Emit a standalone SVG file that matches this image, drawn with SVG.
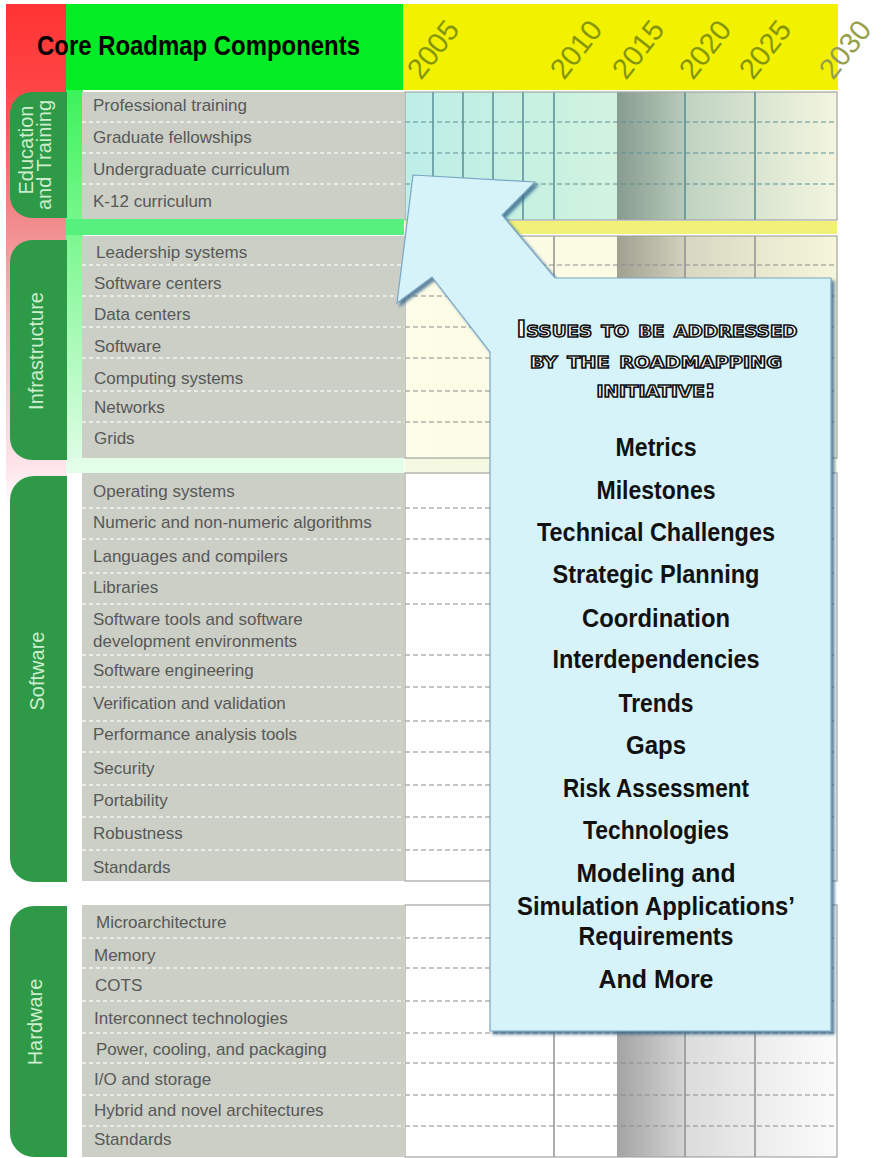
<svg xmlns="http://www.w3.org/2000/svg" width="882" height="1158" viewBox="0 0 882 1158">
<defs>
<style>
.lbl{font-family:"Liberation Sans",Arial,sans-serif;font-size:17px;fill:#585858}
.tab{fill:#2e9a48}
.tabt{font-family:"Liberation Sans",Arial,sans-serif;font-size:20px;fill:#cdeecd;text-anchor:middle}
.yr{font-family:"Liberation Sans",Arial,sans-serif;font-size:29px;fill:#86960c}
.box{fill:#cbcfc6}
.wsep{stroke:#f6f6f6;stroke-width:1.5;stroke-dasharray:4 3;fill:none}
.gsep{stroke:#8c8c8c;stroke-width:1.2;stroke-dasharray:5 3;fill:none}
.esep{stroke:#5f8f96;stroke-width:1.2;stroke-dasharray:5 3;fill:none}
.vl{stroke:#8a8a8a;stroke-width:1.4}
.evl{stroke:#4f8790;stroke-width:1.4}
.frame{fill:none;stroke:#a3a6a0;stroke-width:1.2}
.item{font-family:"Liberation Sans",Arial,sans-serif;font-weight:bold;font-size:25px;fill:#111;text-anchor:middle}
.hd{font-family:"DejaVu Sans",sans-serif;font-weight:bold;font-size:23px;font-variant:small-caps;fill:#fff;stroke:#111;stroke-width:1.5;text-anchor:middle}
</style>
<linearGradient id="redG" gradientUnits="userSpaceOnUse" x1="0" y1="0" x2="0" y2="1158">
<stop offset="0" stop-color="#ff3232"/>
<stop offset="0.075" stop-color="#ff4444"/>
<stop offset="0.19" stop-color="#f28a8c"/>
<stop offset="0.28" stop-color="#f8bcc2"/>
<stop offset="0.4" stop-color="#fde3e8"/>
<stop offset="0.44" stop-color="#ffffff"/>
</linearGradient>
<linearGradient id="greenG" gradientUnits="userSpaceOnUse" x1="0" y1="90" x2="0" y2="473">
<stop offset="0" stop-color="#3cf25a"/>
<stop offset="0.4" stop-color="#80f894"/>
<stop offset="1" stop-color="#e2fde8"/>
</linearGradient>
<linearGradient id="eduG" x1="0" y1="0" x2="1" y2="0">
<stop offset="0" stop-color="#bdeee8"/>
<stop offset="0.35" stop-color="#c9f1e0"/>
<stop offset="1" stop-color="#f7f9e2"/>
</linearGradient>
<linearGradient id="infG" x1="0" y1="0" x2="1" y2="0">
<stop offset="0" stop-color="#fdfde8"/>
<stop offset="1" stop-color="#f9f9de"/>
</linearGradient>
<linearGradient id="shA" x1="0" y1="0" x2="1" y2="0">
<stop offset="0" stop-color="#000" stop-opacity="0.36"/>
<stop offset="1" stop-color="#000" stop-opacity="0.17"/>
</linearGradient>
<linearGradient id="shB" x1="0" y1="0" x2="1" y2="0">
<stop offset="0" stop-color="#000" stop-opacity="0.14"/>
<stop offset="1" stop-color="#000" stop-opacity="0.08"/>
</linearGradient>
<linearGradient id="shC" x1="0" y1="0" x2="1" y2="0">
<stop offset="0" stop-color="#000" stop-opacity="0.075"/>
<stop offset="1" stop-color="#000" stop-opacity="0.015"/>
</linearGradient>
<filter id="drop" x="-10%" y="-10%" width="130%" height="130%">
<feDropShadow dx="3" dy="3" stdDeviation="1.8" flood-color="#2f5f85" flood-opacity="0.75"/>
</filter>
</defs>

<rect x="0" y="0" width="882" height="1158" fill="#ffffff"/>

<!-- left strips -->
<g id="strips">
<rect x="6" y="4" width="61" height="1154" fill="url(#redG)"/>
<rect x="66" y="90" width="17" height="383" fill="url(#greenG)"/>
<rect x="66" y="219" width="338" height="16" fill="#58f07c"/>
<rect x="66" y="458" width="338" height="15" fill="#e2fde8"/>
</g>

<!-- header -->
<g id="header">
<rect x="66" y="4" width="338" height="86" fill="#04ec24"/>
<rect x="403" y="4" width="435" height="86" fill="#f2f200"/>
<text x="37" y="55" font-family="Liberation Sans, Arial, sans-serif" font-weight="bold" font-size="27" fill="#000" textLength="323" lengthAdjust="spacingAndGlyphs">Core Roadmap Components</text>
<text class="yr" transform="translate(421,81) rotate(-52)">2005</text>
<text class="yr" transform="translate(564,81) rotate(-52)">2010</text>
<text class="yr" transform="translate(626,81) rotate(-52)">2015</text>
<text class="yr" transform="translate(693,81) rotate(-52)">2020</text>
<text class="yr" transform="translate(753,81) rotate(-52)">2025</text>
<text class="yr" transform="translate(833,81) rotate(-52)" style="fill:#97a048">2030</text>
</g>

<!-- timeline backgrounds -->
<g id="timeline">
<rect x="405" y="92" width="432" height="128" fill="url(#eduG)"/>
<rect x="405" y="236" width="432" height="222" fill="url(#infG)"/>
<rect x="405" y="473" width="432" height="408" fill="#ffffff"/>
<rect x="405" y="905" width="432" height="252" fill="#ffffff"/>
<rect x="405" y="458" width="432" height="15" fill="#f6f9e2"/>
<rect x="617" y="92" width="68" height="128" fill="url(#shA)"/>
<rect x="685" y="92" width="70" height="128" fill="url(#shB)"/>
<rect x="755" y="92" width="82" height="128" fill="url(#shC)"/>
<rect x="617" y="236" width="68" height="222" fill="url(#shA)"/>
<rect x="685" y="236" width="70" height="222" fill="url(#shB)"/>
<rect x="755" y="236" width="82" height="222" fill="url(#shC)"/>
<rect x="617" y="473" width="68" height="408" fill="url(#shA)"/>
<rect x="685" y="473" width="70" height="408" fill="url(#shB)"/>
<rect x="755" y="473" width="82" height="408" fill="url(#shC)"/>
<rect x="617" y="905" width="68" height="252" fill="url(#shA)"/>
<rect x="685" y="905" width="70" height="252" fill="url(#shB)"/>
<rect x="755" y="905" width="82" height="252" fill="url(#shC)"/>
<rect x="405" y="221" width="432" height="13" fill="#f1f17a"/>
<g class="evl">
<line x1="433" y1="92" x2="433" y2="220"/><line x1="463" y1="92" x2="463" y2="220"/>
<line x1="493" y1="92" x2="493" y2="220"/><line x1="523" y1="92" x2="523" y2="220"/>
<line x1="554" y1="92" x2="554" y2="220"/><line x1="685" y1="92" x2="685" y2="220"/>
<line x1="755" y1="92" x2="755" y2="220"/>
</g>
<g class="vl">
<line x1="554" y1="236" x2="554" y2="458"/><line x1="685" y1="236" x2="685" y2="458"/><line x1="755" y1="236" x2="755" y2="458"/>
<line x1="554" y1="473" x2="554" y2="881"/><line x1="685" y1="473" x2="685" y2="881"/><line x1="755" y1="473" x2="755" y2="881"/>
<line x1="554" y1="905" x2="554" y2="1157"/><line x1="685" y1="905" x2="685" y2="1157"/><line x1="755" y1="905" x2="755" y2="1157"/>
</g>
<g class="esep">
<line x1="405" y1="122" x2="837" y2="122"/><line x1="405" y1="153" x2="837" y2="153"/><line x1="405" y1="184" x2="837" y2="184"/>
</g>
<g class="gsep">
<line x1="405" y1="265" x2="837" y2="265"/><line x1="405" y1="296" x2="837" y2="296"/><line x1="405" y1="327" x2="837" y2="327"/>
<line x1="405" y1="358" x2="837" y2="358"/><line x1="405" y1="391" x2="837" y2="391"/><line x1="405" y1="422" x2="837" y2="422"/>
<line x1="405" y1="508" x2="837" y2="508"/><line x1="405" y1="539" x2="837" y2="539"/><line x1="405" y1="573" x2="837" y2="573"/>
<line x1="405" y1="604" x2="837" y2="604"/><line x1="405" y1="655" x2="837" y2="655"/><line x1="405" y1="687" x2="837" y2="687"/>
<line x1="405" y1="721" x2="837" y2="721"/><line x1="405" y1="752" x2="837" y2="752"/><line x1="405" y1="785" x2="837" y2="785"/>
<line x1="405" y1="817" x2="837" y2="817"/><line x1="405" y1="850" x2="837" y2="850"/>
<line x1="405" y1="938" x2="837" y2="938"/><line x1="405" y1="968" x2="837" y2="968"/><line x1="405" y1="1001" x2="837" y2="1001"/>
<line x1="405" y1="1033" x2="837" y2="1033"/><line x1="405" y1="1063" x2="837" y2="1063"/><line x1="405" y1="1095" x2="837" y2="1095"/>
<line x1="405" y1="1126" x2="837" y2="1126"/>
</g>
<rect class="frame" x="405" y="92" width="432" height="128"/>
<rect class="frame" x="405" y="236" width="432" height="222"/>
<rect class="frame" x="405" y="473" width="432" height="408"/>
<rect class="frame" x="405" y="905" width="432" height="252"/>
</g>

<!-- Education and Training -->
<g id="education">
<path class="tab" d="M67,92 H32 A22,22 0 0 0 10,114 V196 A22,22 0 0 0 32,218 H67 Z"/>
<text class="tabt" transform="translate(33,150) rotate(-90)">Education</text>
<text class="tabt" transform="translate(51,155) rotate(-90)">and Training</text>
<rect class="box" x="82" y="92" width="322" height="127"/>
<g class="wsep"><line x1="82" y1="122" x2="404" y2="122"/><line x1="82" y1="153" x2="404" y2="153"/><line x1="82" y1="184" x2="404" y2="184"/></g>
<text class="lbl" x="93" y="111">Professional training</text>
<text class="lbl" x="93" y="143">Graduate fellowships</text>
<text class="lbl" x="93" y="175">Undergraduate curriculum</text>
<text class="lbl" x="93" y="207">K-12 curriculum</text>
</g>

<!-- Infrastructure -->
<g id="infrastructure">
<path class="tab" d="M67,240 H32 A22,22 0 0 0 10,262 V438 A22,22 0 0 0 32,460 H67 Z"/>
<text class="tabt" transform="translate(43,351) rotate(-90)">Infrastructure</text>
<rect class="box" x="82" y="236" width="323" height="222"/>
<g class="wsep"><line x1="82" y1="265" x2="405" y2="265"/><line x1="82" y1="296" x2="405" y2="296"/><line x1="82" y1="327" x2="405" y2="327"/><line x1="82" y1="358" x2="405" y2="358"/><line x1="82" y1="391" x2="405" y2="391"/><line x1="82" y1="422" x2="405" y2="422"/></g>
<text class="lbl" x="96" y="258">Leadership systems</text>
<text class="lbl" x="94" y="289">Software centers</text>
<text class="lbl" x="94" y="320">Data centers</text>
<text class="lbl" x="94" y="352">Software</text>
<text class="lbl" x="94" y="384">Computing systems</text>
<text class="lbl" x="94" y="413">Networks</text>
<text class="lbl" x="94" y="444">Grids</text>
</g>

<!-- Software -->
<g id="software">
<path class="tab" d="M67,476 H34 A24,24 0 0 0 10,500 V858 A24,24 0 0 0 34,882 H67 Z"/>
<text class="tabt" transform="translate(44,671) rotate(-90)">Software</text>
<rect class="box" x="82" y="473" width="322" height="408"/>
<g class="wsep"><line x1="82" y1="508" x2="404" y2="508"/><line x1="82" y1="539" x2="404" y2="539"/><line x1="82" y1="573" x2="404" y2="573"/><line x1="82" y1="604" x2="404" y2="604"/><line x1="82" y1="655" x2="404" y2="655"/><line x1="82" y1="687" x2="404" y2="687"/><line x1="82" y1="721" x2="404" y2="721"/><line x1="82" y1="752" x2="404" y2="752"/><line x1="82" y1="785" x2="404" y2="785"/><line x1="82" y1="817" x2="404" y2="817"/><line x1="82" y1="850" x2="404" y2="850"/></g>
<text class="lbl" x="93" y="497">Operating systems</text>
<text class="lbl" x="93" y="528">Numeric and non-numeric algorithms</text>
<text class="lbl" x="93" y="562">Languages and compilers</text>
<text class="lbl" x="93" y="593">Libraries</text>
<text class="lbl" x="93" y="625">Software tools and software</text>
<text class="lbl" x="93" y="647">development environments</text>
<text class="lbl" x="93" y="676">Software engineering</text>
<text class="lbl" x="93" y="709">Verification and validation</text>
<text class="lbl" x="93" y="740">Performance analysis tools</text>
<text class="lbl" x="93" y="774">Security</text>
<text class="lbl" x="93" y="806">Portability</text>
<text class="lbl" x="93" y="839">Robustness</text>
<text class="lbl" x="93" y="873">Standards</text>
</g>

<!-- Hardware -->
<g id="hardware">
<path class="tab" d="M67,906 H34 A24,24 0 0 0 10,930 V1133 A24,24 0 0 0 34,1157 H67 Z"/>
<text class="tabt" transform="translate(42,1022) rotate(-90)">Hardware</text>
<rect class="box" x="82" y="905" width="323" height="252"/>
<g class="wsep"><line x1="82" y1="938" x2="405" y2="938"/><line x1="82" y1="968" x2="405" y2="968"/><line x1="82" y1="1001" x2="405" y2="1001"/><line x1="82" y1="1033" x2="405" y2="1033"/><line x1="82" y1="1063" x2="405" y2="1063"/><line x1="82" y1="1095" x2="405" y2="1095"/><line x1="82" y1="1126" x2="405" y2="1126"/></g>
<text class="lbl" x="96" y="928">Microarchitecture</text>
<text class="lbl" x="94" y="961">Memory</text>
<text class="lbl" x="95" y="991">COTS</text>
<text class="lbl" x="94" y="1024">Interconnect technologies</text>
<text class="lbl" x="96" y="1055">Power, cooling, and packaging</text>
<text class="lbl" x="94" y="1085">I/O and storage</text>
<text class="lbl" x="94" y="1116">Hybrid and novel architectures</text>
<text class="lbl" x="94" y="1145">Standards</text>
</g>

<!-- Callout -->
<g id="callout">
<polygon points="413,175 535,182 502,215 555,278 831,278 831,1031 490,1031 490,352 432,277 397,303" fill="#d7f3fa" stroke="#7aa6c6" stroke-width="1.2" filter="url(#drop)"/>
<text class="hd" x="657" y="337" textLength="281" lengthAdjust="spacingAndGlyphs">Issues to be addressed</text>
<text class="hd" x="656" y="368" textLength="252" lengthAdjust="spacingAndGlyphs">by the roadmapping</text>
<text class="hd" x="656" y="397" textLength="119" lengthAdjust="spacingAndGlyphs">initiative:</text>
<text class="item" x="656" y="456" textLength="81" lengthAdjust="spacingAndGlyphs">Metrics</text>
<text class="item" x="656" y="499" textLength="119" lengthAdjust="spacingAndGlyphs">Milestones</text>
<text class="item" x="656" y="541" textLength="238" lengthAdjust="spacingAndGlyphs">Technical Challenges</text>
<text class="item" x="656" y="583" textLength="207" lengthAdjust="spacingAndGlyphs">Strategic Planning</text>
<text class="item" x="656" y="627" textLength="148" lengthAdjust="spacingAndGlyphs">Coordination</text>
<text class="item" x="656" y="668" textLength="207" lengthAdjust="spacingAndGlyphs">Interdependencies</text>
<text class="item" x="656" y="712" textLength="75" lengthAdjust="spacingAndGlyphs">Trends</text>
<text class="item" x="656" y="754" textLength="60" lengthAdjust="spacingAndGlyphs">Gaps</text>
<text class="item" x="656" y="797" textLength="186" lengthAdjust="spacingAndGlyphs">Risk Assessment</text>
<text class="item" x="656" y="839" textLength="146" lengthAdjust="spacingAndGlyphs">Technologies</text>
<text class="item" x="656" y="882" textLength="159" lengthAdjust="spacingAndGlyphs">Modeling and</text>
<text class="item" x="656" y="915" textLength="278" lengthAdjust="spacingAndGlyphs">Simulation Applications’</text>
<text class="item" x="656" y="945" textLength="155" lengthAdjust="spacingAndGlyphs">Requirements</text>
<text class="item" x="656" y="988" textLength="115" lengthAdjust="spacingAndGlyphs">And More</text>
</g>
</svg>
